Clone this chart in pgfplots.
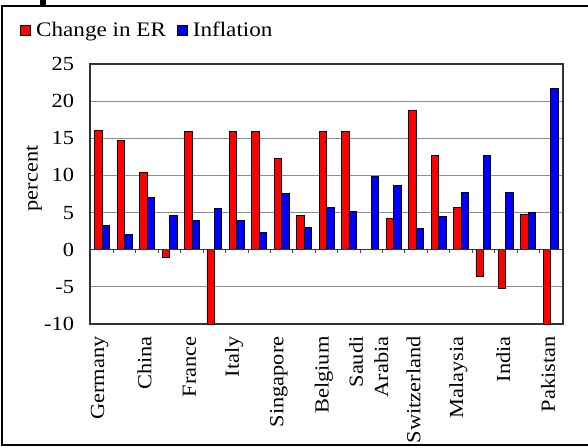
\documentclass[border=0pt]{standalone}
\usepackage{fontspec}
\setmainfont{Liberation Serif}[FakeStretch=1.12]
\usepackage{pgfplots}
\usepackage{pgfplotstable}
\pgfplotsset{compat=1.18}

\definecolor{erred}{RGB}{255,0,0}
\definecolor{infblue}{RGB}{0,0,255}
\newcommand\chartfont{\fontsize{15}{19}\selectfont}
\newcommand\legendfont{\fontsize{15.5}{19}\selectfont}
\pgfplotsset{squarelegend/.style={legend image code/.code={%
  \draw[##1] (0pt,-3.75pt) rectangle (7.5pt,3.75pt);}}}

% change in exchange rate and inflation, percent, one row per country slot
\pgfplotstableread{
idx er infl
0 16.0 3.3
1 14.7 2.0
2 10.4 7.0
3 -1.1 4.6
4 15.9 3.9
5 -10.0 5.5
6 15.9 3.9
7 15.9 2.3
8 12.3 7.6
9 4.6 3.0
10 15.9 5.7
11 15.9 5.1
12 0.0 9.9
13 4.2 8.7
14 18.7 2.9
15 12.7 4.5
16 5.7 7.7
17 -3.6 12.7
18 -5.2 7.7
19 4.8 5.0
20 -10.0 21.7
}\ratedata

\begin{document}
\begin{tikzpicture}
\useasboundingbox (-67.5pt,-92.25pt) rectangle (373.5pt,243pt);
% outer chart frame
\draw[black, line width=1.2pt] (380pt,238.5pt) -- (-66pt,238.5pt) -- (-66pt,-90.75pt) -- (380pt,-90.75pt);
\fill[black] (-37.5pt,243pt) rectangle (-33pt,239.5pt);
\begin{axis}[
  at={(0,0)}, anchor=south west,
  scale only axis, width=354.75pt, height=195pt,
  xmin=-0.55, xmax=20.55, ymin=-10, ymax=25,
  ybar=0pt, bar width=5.6pt,
  xtick={0,2,...,20},
  xticklabels={Germany,China,France,Italy,Singapore,Belgium,{Saudi\\Arabia},Switzerland,Malaysia,India,Pakistan},
  x tick label style={xshift=-2pt, yshift=-1.5pt, rotate=90, anchor=east, align=right},
  major x tick style={draw=none},
  ytick={-10,-5,0,5,10,15,20,25},
  yticklabels={-10,-5,0,5,10,15,20,25},
  y tick label style={anchor=east, xshift=-8.5pt},
  major y tick style={draw=none},
  tick label style={font=\chartfont},
  ymajorgrids, grid style={black!45, line width=0.9pt},
  axis line style={black!80, line width=1.1pt},
  ylabel={percent}, label style={font=\chartfont},
  ylabel style={at={(axis description cs:-0.118,0.56)}, anchor=center},
  legend columns=2,
  legend style={draw=none, fill=none, font=\legendfont,
    at={(axis description cs:-0.157,1.131)}, anchor=west,
    /tikz/every odd column/.append style={column sep=2pt},
    /tikz/every even column/.append style={column sep=6pt}},
]
\addplot[fill=erred, draw=black, line width=0.6pt, squarelegend]
  table[x=idx, y=er] {\ratedata};
\addplot[fill=infblue, draw=black, line width=0.6pt, squarelegend]
  table[x=idx, y=infl] {\ratedata};
\legend{Change in ER, Inflation}
% category axis at zero with tick marks between slots
\draw[black!80, line width=1.1pt] (axis cs:-0.55,0) -- (axis cs:20.55,0);
\pgfplotsinvokeforeach{0.5,1.5,2.5,3.5,4.5,5.5,6.5,7.5,8.5,9.5,10.5,11.5,12.5,13.5,14.5,15.5,16.5,17.5,18.5,19.5}{
  \draw[black!70, line width=0.8pt] (axis cs:#1,0) -- ++(0pt,-2.5pt);
}
\end{axis}
\end{tikzpicture}
\end{document}
